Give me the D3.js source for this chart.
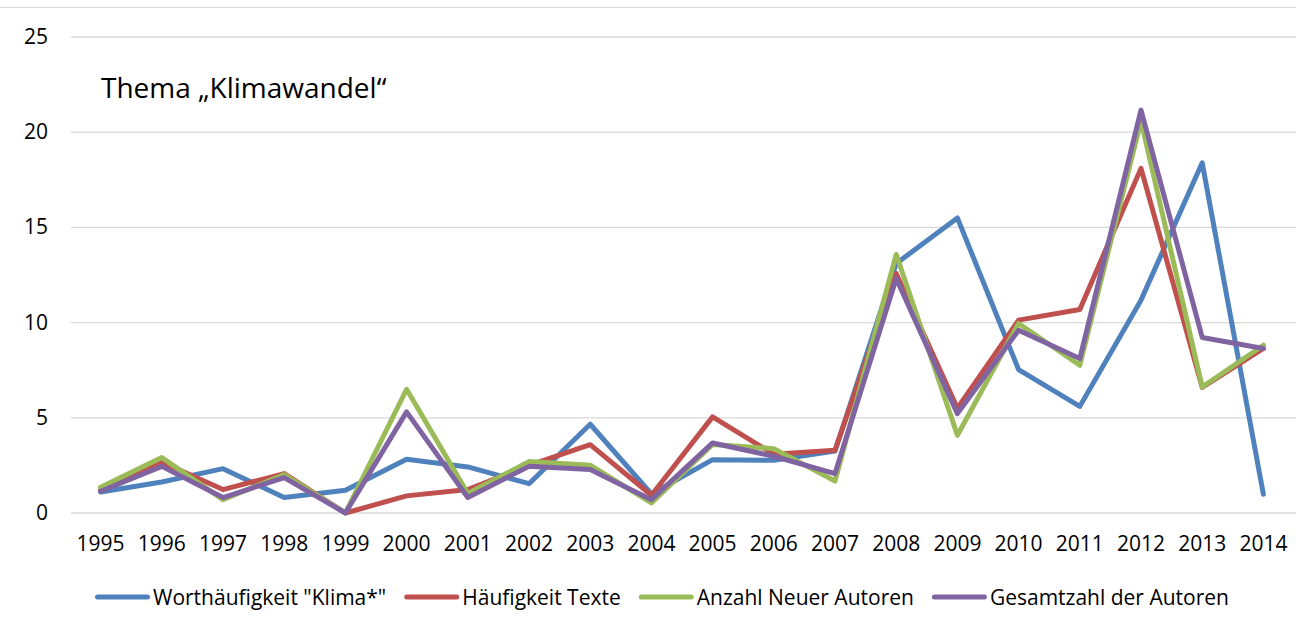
<!DOCTYPE html>
<html>
<head>
<meta charset="utf-8">
<script src="https://cdn.jsdelivr.net/npm/d3@7"></script>
<style>
  body { margin: 0; background: #fff; }
  svg text { font-family: "Open Sans", "Noto Sans", sans-serif; fill: #000; }
</style>
</head>
<body>
<div id="container"></div>
<script>
// Thema "Klimawandel" line chart

var years = ['1995','1996','1997','1998','1999','2000','2001','2002','2003','2004',
             '2005','2006','2007','2008','2009','2010','2011','2012','2013','2014'];

var yTicks = [0, 5, 10, 15, 20, 25];

var seriesNames = ['Worthäufigkeit "Klima*"', 'Häufigkeit Texte', 'Anzahl Neuer Autoren', 'Gesamtzahl der Autoren'];
var seriesColors = ['#4F81BD', '#C0504D', '#9BBB59', '#8064A2'];

// values
var wortHaeufigkeit = [1.1, 1.63, 2.33, 0.81, 1.19, 2.82, 2.42, 1.54, 4.66, 1.0,
                       2.8, 2.77, 3.25, 13.1, 15.5, 7.53, 5.6, 11.18, 18.39, 0.98];
var haeufigkeitTexte = [1.2, 2.68, 1.23, 2.07, 0, 0.9, 1.23, 2.5, 3.59, 0.93,
                        5.05, 3.08, 3.3, 12.58, 5.5, 10.13, 10.69, 18.1, 6.6, 8.64];
var neueAutoren = [1.35, 2.91, 0.7, 2.02, 0, 6.5, 1.02, 2.7, 2.51, 0.53,
                   3.6, 3.38, 1.68, 13.58, 4.08, 9.95, 7.76, 20.6, 6.62, 8.81];
var gesamtAutoren = [1.14, 2.45, 0.81, 1.86, 0, 5.31, 0.81, 2.45, 2.28, 0.7,
                     3.68, 2.98, 2.07, 12.32, 5.22, 9.6, 8.11, 21.16, 9.22, 8.64];

var seriesValues = [wortHaeufigkeit, haeufigkeitTexte, neueAutoren, gesamtAutoren];

var width = 1296, height = 629;
var plot = {left: 70, right: 1294, top: 37, bottom: 513};

var svg = d3.select('#container').append('svg')
  .attr('width', width)
  .attr('height', height);

// top border of the chart frame
svg.append('line')
  .attr('x1', 0).attr('x2', width)
  .attr('y1', 7.5).attr('y2', 7.5)
  .attr('stroke', '#d9d9d9').attr('stroke-width', 1.2);

var x = d3.scaleBand()
  .domain(years)
  .range([plot.left, plot.right]);

var y = d3.scaleLinear()
  .domain([0, 25])
  .range([plot.bottom, plot.top]);

// gridlines
svg.append('g')
  .selectAll('line')
  .data(yTicks)
  .enter().append('line')
  .attr('x1', plot.left + 1)
  .attr('x2', width)
  .attr('y1', function(d) { return y(d); })
  .attr('y2', function(d) { return y(d); })
  .attr('stroke', '#d9d9d9')
  .attr('stroke-width', 1.3);

// y labels
svg.append('g')
  .selectAll('text')
  .data(yTicks)
  .enter().append('text')
  .attr('x', 48)
  .attr('y', function(d) { return y(d) + 7; })
  .attr('text-anchor', 'end')
  .style('font-size', '21px')
  .text(function(d) { return d; });

// x labels
svg.append('g')
  .selectAll('text')
  .data(years)
  .enter().append('text')
  .attr('x', function(d) { return x(d) + x.bandwidth() / 2; })
  .attr('y', 551)
  .attr('text-anchor', 'middle')
  .style('font-size', '21px')
  .text(function(d) { return d; });

// lines
var line = d3.line()
  .x(function(d, i) { return x(years[i]) + x.bandwidth() / 2; })
  .y(function(d) { return y(d); });

svg.append('g')
  .selectAll('path')
  .data(seriesValues)
  .enter().append('path')
  .attr('d', line)
  .attr('fill', 'none')
  .attr('stroke', function(d, i) { return seriesColors[i]; })
  .attr('stroke-width', 5)
  .attr('stroke-linejoin', 'round')
  .attr('stroke-linecap', 'round');

// title
svg.append('text')
  .attr('x', 101)
  .attr('y', 98)
  .style('font-size', '28px')
  .text('Thema \u201EKlimawandel\u201C');

// legend
var legend = svg.append('g');
var lx = 95, ly = 597;
seriesNames.forEach(function(name, i) {
  legend.append('line')
    .attr('x1', lx + 2.5).attr('x2', lx + 52.5)
    .attr('y1', ly).attr('y2', ly)
    .attr('stroke', seriesColors[i])
    .attr('stroke-width', 5)
    .attr('stroke-linecap', 'round');
  var t = legend.append('text')
    .attr('x', lx + 58)
    .attr('y', ly + 7.5)
    .style('font-size', '21px')
    .text(name);
  lx = lx + 58 + t.node().getComputedTextLength() + 18;
});
</script>
</body>
</html>
